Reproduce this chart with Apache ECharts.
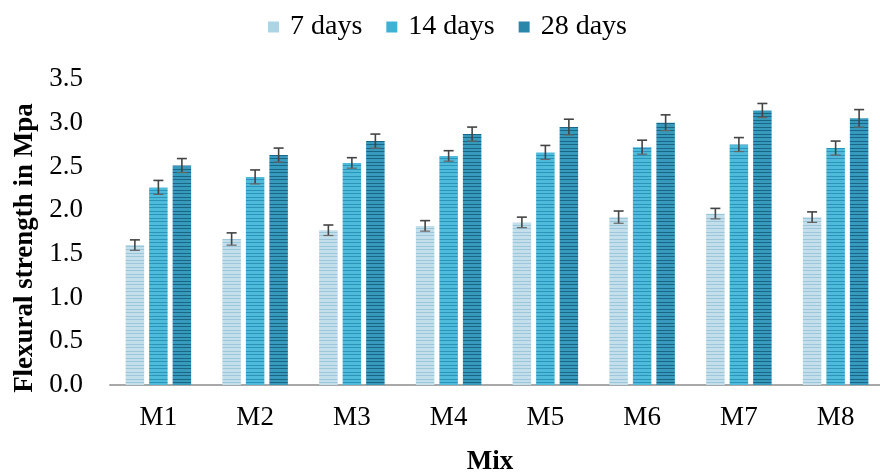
<!DOCTYPE html>
<html><head><meta charset="utf-8">
<script src="https://cdn.jsdelivr.net/npm/echarts@6/dist/echarts.min.js"></script>
<style>html,body{margin:0;padding:0;background:#fff}#c{width:880px;height:472px}</style>
</head><body><div id="c"></div>
<script>
const categories = ['M1','M2','M3','M4','M5','M6','M7','M8'];
const seriesNames = ['7 days','14 days','28 days'];
const days7  = [1.60, 1.67, 1.77, 1.82, 1.86, 1.92, 1.96, 1.92];
const days14 = [2.26, 2.38, 2.54, 2.62, 2.66, 2.72, 2.75, 2.71];
const days28 = [2.51, 2.63, 2.79, 2.87, 2.95, 3.00, 3.14, 3.05];
const err7  = [0.06, 0.07, 0.06, 0.06, 0.06, 0.07, 0.06, 0.06];
const err14 = [0.08, 0.08, 0.06, 0.06, 0.08, 0.08, 0.08, 0.08];
const err28 = [0.08, 0.08, 0.08, 0.08, 0.09, 0.09, 0.08, 0.10];
const yTicks = [0, 0.5, 1.0, 1.5, 2.0, 2.5, 3.0, 3.5];

const FONT = '"Liberation Serif", "Times New Roman", serif';
const BAR_W = 18.5, BAR_GAP = 5;

function stripe(base, line){
  const c = document.createElement('canvas');
  c.width = 4; c.height = 7;
  const g = c.getContext('2d');
  g.fillStyle = base; g.fillRect(0,0,4,7);
  g.fillStyle = line; g.fillRect(0,1,4,1); g.fillRect(0,4,4,1);
  return {image: c, repeat: 'repeat'};
}
const fills = [
  stripe('#c3dfeb', '#9cc6d9'),
  stripe('#4fbbdb', '#2a94ba'),
  stripe('#3799bb', '#1a6686')
];
const legendColors = ['#aed3e4', '#3db2d6', '#2a87aa'];
const values = [days7, days14, days28];
const errs = [err7, err14, err28];

const chart = echarts.init(document.getElementById('c'), null, {renderer: 'canvas'});

const barSeries = seriesNames.map((n, i) => ({
  name: n, type: 'bar', data: values[i], barWidth: BAR_W, barGap: (BAR_GAP / BAR_W * 100) + '%',
  itemStyle: {color: fills[i]}, z: 2
}));

const errSeries = seriesNames.map((n, i) => ({
  type: 'custom', name: n + ' err', z: 5,
  data: values[i].map((v, k) => [k, v, errs[i][k]]),
  encode: {x: 0, y: 1},
  renderItem: function(params, api){
    const k = api.value(0), v = api.value(1), e = api.value(2);
    const off = (i - 1) * (BAR_W + BAR_GAP);
    const t = api.coord([k, v + e]);
    const b = api.coord([k, v - e]);
    const x = t[0] + off;
    const st = {stroke: '#444444', lineWidth: 1.6};
    return {type: 'group', children: [
      {type: 'line', shape: {x1: x, y1: t[1], x2: x, y2: b[1]}, style: st},
      {type: 'line', shape: {x1: x - 5, y1: t[1], x2: x + 5, y2: t[1]}, style: st},
      {type: 'line', shape: {x1: x - 5, y1: b[1], x2: x + 5, y2: b[1]}, style: {stroke: '#666666', lineWidth: 1.2}}
    ]};
  }
}));

chart.setOption({
  animation: false,
  backgroundColor: '#fff',
  textStyle: {fontFamily: FONT, color: '#000'},
  legend: {
    data: seriesNames.map((n, i) => ({name: n, itemStyle: {color: legendColors[i]}})),
    top: 8, left: 263, itemWidth: 11, itemHeight: 11, itemGap: 24,
    icon: 'rect',
    textStyle: {fontFamily: FONT, fontSize: 28, color: '#000', padding: [0, 0, 0, 6]}
  },
  grid: {left: 110, top: 79, width: 774, height: 306, outerBoundsMode: 'none', containLabel: false},
  xAxis: {
    type: 'category', data: categories,
    axisLine: {lineStyle: {color: '#a8a8a8', width: 2}},
    axisTick: {show: false},
    axisLabel: {fontFamily: FONT, fontSize: 27, color: '#000', margin: 19},
    name: 'Mix', nameLocation: 'middle', nameGap: 64,
    nameTextStyle: {fontFamily: FONT, fontSize: 27, fontWeight: 'bold', color: '#000', padding: [0, 14, 0, 0]}
  },
  yAxis: {
    type: 'value', min: 0, max: 3.5, interval: 0.5,
    axisLine: {show: false}, axisTick: {show: false}, splitLine: {show: false},
    axisLabel: {fontFamily: FONT, fontSize: 27, color: '#000', margin: 27,
      formatter: v => Number(v).toFixed(1)},
    name: 'Flexural strength in Mpa', nameLocation: 'middle', nameGap: 63,
    nameTextStyle: {fontFamily: FONT, fontSize: 27, fontWeight: 'bold', color: '#000', padding: [0, 32, 0, 0]}
  },
  series: barSeries.concat(errSeries)
});
</script></body></html>
